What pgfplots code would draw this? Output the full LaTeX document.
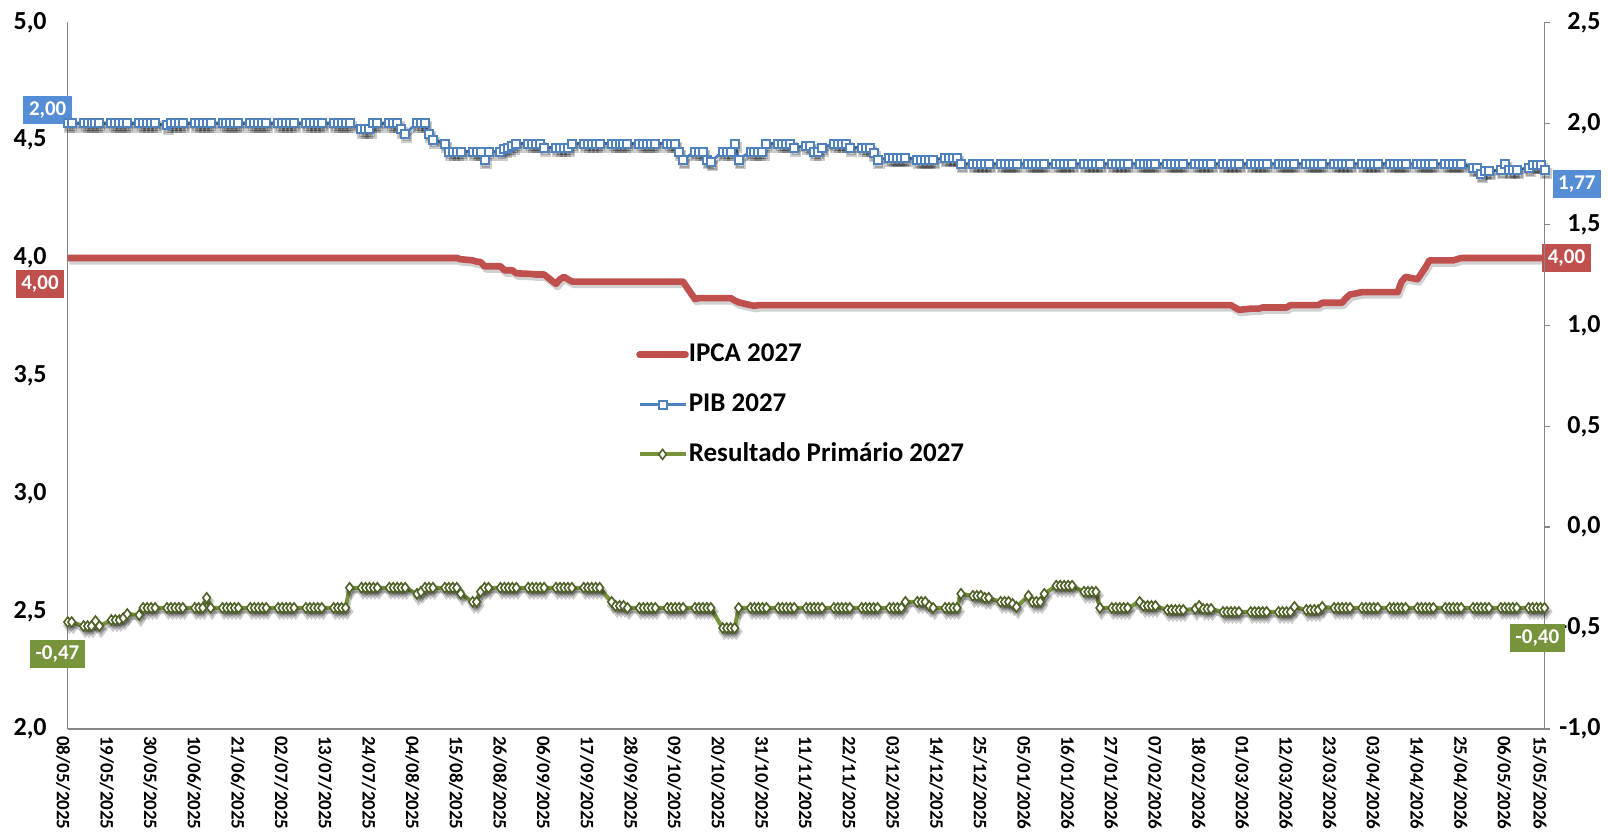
\documentclass[border=0pt]{standalone}
\usepackage{pgfplots}
\pgfplotsset{compat=1.18}
\usepackage{pgfplotstable}
\usepackage{fontspec}
\setmainfont{Carlito}
\definecolor{ipca}{HTML}{C0504D}
\definecolor{pib}{HTML}{4F81BD}
\definecolor{pibbox}{HTML}{558ED5}
\definecolor{rp}{HTML}{77933C}
\definecolor{rpdark}{HTML}{4F6228}
\definecolor{axgray}{HTML}{868686}

\pgfplotstableread{
d ipca pib rp
0 4.00 2.00 -0.47
1 4.00 2.00 -0.47
4 4.00 2.00 -0.49
5 4.00 2.00 -0.49
6 4.00 2.00 -0.49
7 4.00 2.00 -0.465
8 4.00 2.00 -0.49
11 4.00 2.00 -0.46
12 4.00 2.00 -0.46
13 4.00 2.00 -0.46
14 4.00 2.00 -0.45
15 4.00 2.00 -0.43
18 4.00 2.00 -0.435
19 4.00 2.00 -0.40
20 4.00 2.00 -0.40
21 4.00 2.00 -0.40
22 4.00 2.00 -0.40
25 4.00 1.99 -0.40
26 4.00 2.00 -0.40
27 4.00 2.00 -0.40
28 4.00 2.00 -0.40
29 4.00 2.00 -0.40
32 4.00 2.00 -0.40
33 4.00 2.00 -0.40
34 4.00 2.00 -0.40
35 4.00 2.00 -0.35
36 4.00 2.00 -0.40
39 4.00 2.00 -0.40
40 4.00 2.00 -0.40
41 4.00 2.00 -0.40
42 4.00 2.00 -0.40
43 4.00 2.00 -0.40
46 4.00 2.00 -0.40
47 4.00 2.00 -0.40
48 4.00 2.00 -0.40
49 4.00 2.00 -0.40
50 4.00 2.00 -0.40
53 4.00 2.00 -0.40
54 4.00 2.00 -0.40
55 4.00 2.00 -0.40
56 4.00 2.00 -0.40
57 4.00 2.00 -0.40
60 4.00 2.00 -0.40
61 4.00 2.00 -0.40
62 4.00 2.00 -0.40
63 4.00 2.00 -0.40
64 4.00 2.00 -0.40
67 4.00 2.00 -0.40
68 4.00 2.00 -0.40
69 4.00 2.00 -0.40
70 4.00 2.00 -0.40
71 4.00 2.00 -0.30
74 4.00 1.97 -0.30
75 4.00 1.97 -0.30
76 4.00 1.97 -0.30
77 4.00 2.00 -0.30
78 4.00 2.00 -0.30
81 4.00 2.00 -0.30
82 4.00 2.00 -0.30
83 4.00 2.00 -0.30
84 4.00 1.97 -0.30
85 4.00 1.95 -0.30
88 4.00 2.00 -0.33
89 4.00 2.00 -0.32
90 4.00 2.00 -0.30
91 4.00 1.95 -0.30
92 4.00 1.92 -0.30
95 4.00 1.90 -0.30
96 4.00 1.86 -0.30
97 4.00 1.86 -0.30
98 4.00 1.86 -0.30
99 3.995 1.86 -0.33
102 3.99 1.86 -0.37
103 3.985 1.86 -0.37
104 3.983 1.86 -0.32
105 3.965 1.82 -0.30
106 3.965 1.86 -0.30
109 3.965 1.86 -0.30
110 3.948 1.875 -0.30
111 3.948 1.88 -0.30
112 3.948 1.89 -0.30
113 3.935 1.90 -0.30
116 3.933 1.90 -0.30
117 3.932 1.90 -0.30
118 3.93 1.90 -0.30
119 3.93 1.90 -0.30
120 3.93 1.88 -0.30
123 3.89 1.88 -0.30
124 3.91 1.88 -0.30
125 3.92 1.88 -0.30
126 3.91 1.88 -0.30
127 3.90 1.90 -0.30
130 3.90 1.90 -0.30
131 3.90 1.90 -0.30
132 3.90 1.90 -0.30
133 3.90 1.90 -0.30
134 3.90 1.90 -0.30
137 3.90 1.90 -0.37
138 3.90 1.90 -0.39
139 3.90 1.90 -0.39
140 3.90 1.90 -0.39
141 3.90 1.90 -0.40
144 3.90 1.90 -0.40
145 3.90 1.90 -0.40
146 3.90 1.90 -0.40
147 3.90 1.90 -0.40
148 3.90 1.90 -0.40
151 3.90 1.90 -0.40
152 3.90 1.90 -0.40
153 3.90 1.90 -0.40
154 3.90 1.86 -0.40
155 3.90 1.82 -0.40
158 3.826 1.86 -0.40
159 3.83 1.86 -0.40
160 3.83 1.86 -0.40
161 3.83 1.82 -0.40
162 3.83 1.81 -0.40
165 3.83 1.86 -0.50
166 3.83 1.86 -0.50
167 3.83 1.86 -0.50
168 3.82 1.90 -0.50
169 3.812 1.82 -0.40
172 3.80 1.86 -0.40
173 3.797 1.86 -0.40
174 3.80 1.86 -0.40
175 3.80 1.86 -0.40
176 3.80 1.90 -0.40
179 3.80 1.90 -0.40
180 3.80 1.90 -0.40
181 3.80 1.90 -0.40
182 3.80 1.90 -0.40
183 3.80 1.88 -0.40
186 3.80 1.89 -0.40
187 3.80 1.89 -0.40
188 3.80 1.86 -0.40
189 3.80 1.86 -0.40
190 3.80 1.88 -0.40
193 3.80 1.90 -0.40
194 3.80 1.90 -0.40
195 3.80 1.90 -0.40
196 3.80 1.90 -0.40
197 3.80 1.88 -0.40
200 3.80 1.88 -0.40
201 3.80 1.88 -0.40
202 3.80 1.88 -0.40
203 3.80 1.855 -0.40
204 3.80 1.82 -0.40
207 3.80 1.83 -0.40
208 3.80 1.83 -0.40
209 3.80 1.83 -0.40
210 3.80 1.83 -0.40
211 3.80 1.83 -0.37
214 3.80 1.82 -0.37
215 3.80 1.82 -0.37
216 3.80 1.82 -0.37
217 3.80 1.82 -0.39
218 3.80 1.82 -0.40
221 3.80 1.83 -0.40
222 3.80 1.83 -0.40
223 3.80 1.83 -0.40
224 3.80 1.83 -0.40
225 3.80 1.80 -0.33
228 3.80 1.80 -0.34
229 3.80 1.80 -0.34
230 3.80 1.80 -0.34
231 3.80 1.80 -0.35
232 3.80 1.80 -0.35
235 3.80 1.80 -0.37
236 3.80 1.80 -0.37
237 3.80 1.80 -0.37
238 3.80 1.80 -0.38
239 3.80 1.80 -0.395
242 3.80 1.80 -0.34
243 3.80 1.80 -0.37
244 3.80 1.80 -0.37
245 3.80 1.80 -0.37
246 3.80 1.80 -0.33
249 3.80 1.80 -0.29
250 3.80 1.80 -0.29
251 3.80 1.80 -0.29
252 3.80 1.80 -0.29
253 3.80 1.80 -0.29
256 3.80 1.80 -0.32
257 3.80 1.80 -0.32
258 3.80 1.80 -0.32
259 3.80 1.80 -0.32
260 3.80 1.80 -0.40
263 3.80 1.80 -0.40
264 3.80 1.80 -0.40
265 3.80 1.80 -0.40
266 3.80 1.80 -0.40
267 3.80 1.80 -0.40
270 3.80 1.80 -0.37
271 3.80 1.80 -0.39
272 3.80 1.80 -0.39
273 3.80 1.80 -0.39
274 3.80 1.80 -0.39
277 3.80 1.80 -0.41
278 3.80 1.80 -0.41
279 3.80 1.80 -0.41
280 3.80 1.80 -0.41
281 3.80 1.80 -0.41
284 3.80 1.80 -0.405
285 3.80 1.80 -0.39
286 3.80 1.80 -0.405
287 3.80 1.80 -0.405
288 3.80 1.80 -0.405
291 3.80 1.80 -0.42
292 3.80 1.80 -0.42
293 3.80 1.80 -0.42
294 3.79 1.80 -0.42
295 3.78 1.80 -0.42
298 3.785 1.80 -0.42
299 3.785 1.80 -0.42
300 3.785 1.80 -0.42
301 3.79 1.80 -0.42
302 3.79 1.80 -0.42
305 3.79 1.80 -0.42
306 3.79 1.80 -0.42
307 3.79 1.80 -0.42
308 3.80 1.80 -0.42
309 3.80 1.80 -0.395
312 3.80 1.80 -0.41
313 3.80 1.80 -0.41
314 3.80 1.80 -0.41
315 3.80 1.80 -0.41
316 3.81 1.80 -0.395
319 3.81 1.80 -0.40
320 3.81 1.80 -0.40
321 3.81 1.80 -0.40
322 3.83 1.80 -0.40
323 3.845 1.80 -0.40
326 3.855 1.80 -0.40
327 3.855 1.80 -0.40
328 3.855 1.80 -0.40
329 3.855 1.80 -0.40
330 3.855 1.80 -0.40
333 3.855 1.80 -0.40
334 3.855 1.80 -0.40
335 3.855 1.80 -0.40
336 3.90 1.80 -0.40
337 3.92 1.80 -0.40
340 3.91 1.80 -0.40
341 3.935 1.80 -0.40
342 3.96 1.80 -0.40
343 3.99 1.80 -0.40
344 3.99 1.80 -0.40
347 3.99 1.80 -0.40
348 3.99 1.80 -0.40
349 3.99 1.80 -0.40
350 3.995 1.80 -0.40
351 4.00 1.80 -0.40
354 4.00 1.78 -0.40
355 4.00 1.78 -0.40
356 4.00 1.75 -0.40
357 4.00 1.765 -0.40
358 4.00 1.765 -0.40
361 4.00 1.77 -0.40
362 4.00 1.80 -0.40
363 4.00 1.77 -0.40
364 4.00 1.77 -0.40
365 4.00 1.77 -0.40
368 4.00 1.78 -0.40
369 4.00 1.795 -0.40
370 4.00 1.795 -0.40
371 4.00 1.795 -0.40
372 4.00 1.77 -0.40
}\data

\pgfplotsset{
  tlab/.style={font=\bfseries\fontsize{13}{15}\selectfont},
  numfmt/.style={/pgf/number format/fixed, /pgf/number format/fixed zerofill, /pgf/number format/precision=1, /pgf/number format/use comma, /pgf/number format/assume math mode=true},
}
\tikzset{
  boxlab/.style={text=white, font=\bfseries\fontsize{10.5}{12}\selectfont, minimum height=14pt, inner xsep=2.8pt, inner ysep=0pt},
}

\begin{document}
\begin{tikzpicture}
% ---------- left axis: IPCA ----------
\begin{axis}[
  at={(33.85pt,54.45pt)}, anchor=south west,
  width=738.4pt, height=353.3pt, scale only axis,
  xmin=0, xmax=372, ymin=2, ymax=5,
  axis x line*=bottom, axis y line*=left,
  axis line style={axgray, line width=0.75pt},
  tick style={draw=none},
  ytick={2,2.5,3,3.5,4,4.5,5},
  yticklabel style={tlab, numfmt, xshift=-7pt},
  xtick={0,11,22,33,44,55,66,77,88,99,110,121,132,143,154,165,176,187,198,209,220,231,242,253,264,275,286,297,308,319,330,341,352,363,372},
  xticklabels={08/05/2025,19/05/2025,30/05/2025,10/06/2025,21/06/2025,02/07/2025,13/07/2025,24/07/2025,04/08/2025,15/08/2025,26/08/2025,06/09/2025,17/09/2025,28/09/2025,09/10/2025,20/10/2025,31/10/2025,11/11/2025,22/11/2025,03/12/2025,14/12/2025,25/12/2025,05/01/2026,16/01/2026,27/01/2026,07/02/2026,18/02/2026,01/03/2026,12/03/2026,23/03/2026,03/04/2026,14/04/2026,25/04/2026,06/05/2026,15/05/2026},
  xticklabel style={rotate=-90, anchor=west, font=\bfseries\fontsize{9.5}{11}\selectfont, yshift=-2.3pt},
  clip=false,
]
\addplot[forget plot, draw=black, opacity=0.18, line width=3.3pt, line join=round, xshift=0.8pt, yshift=-1.6pt] table[x=d,y=ipca]{\data};
\addplot[ipca, line width=3.3pt, line join=round] table[x=d,y=ipca]{\data};
\node[boxlab, fill=ipca] at ([xshift=-13.85pt,yshift=-13.1pt]axis cs:0,4.00) {4,00};
\node[boxlab, fill=ipca] at ([xshift=11pt]axis cs:372,4.00) {4,00};
\end{axis}
% ---------- right axis: PIB and Resultado Primario ----------
\begin{axis}[
  at={(33.85pt,54.45pt)}, anchor=south west,
  width=738.4pt, height=353.3pt, scale only axis,
  xmin=0, xmax=372, ymin=-1, ymax=2.5,
  axis x line=none, axis y line*=right,
  axis line style={axgray, line width=0.75pt},
  ytick={-1,-0.5,0,0.5,1,1.5,2,2.5},
  ytick style={axgray, line width=0.75pt},
  tick align=outside, major tick length=2.5pt,
  yticklabel style={tlab, numfmt, anchor=east, xshift=29pt},
  clip=false,
  legend style={at={(rel axis cs:0.3847,0.5487)}, anchor=north west, draw=none, fill=none,
    font=\bfseries\fontsize{13.5}{16}\selectfont, inner sep=0pt, row sep=11.9pt,
    nodes={inner sep=0pt, text height=10pt, text depth=3pt}},
  legend cell align=left,
  legend image code/.code={\draw[mark repeat=2,mark phase=2,#1] plot coordinates {(0pt,0pt) (11.5pt,0pt) (23pt,0pt)};},
]
\addlegendimage{ipca, line width=3.3pt, line cap=round}
\addlegendentry{IPCA 2027}
\addplot[forget plot, draw=black, opacity=0.2, line width=1.5pt, mark=square*, mark size=2.1pt,
  mark options={draw=black, fill=black}, xshift=0.8pt, yshift=-1.8pt] table[x=d,y=pib]{\data};
\addplot[pib, line width=1.5pt, mark=square*, mark size=2.0pt,
  mark options={fill=white, draw=pib, line width=1pt}] table[x=d,y=pib]{\data};
\addlegendentry{PIB 2027}
\addplot[forget plot, draw=black, opacity=0.2, line width=2pt, mark=diamond*, mark size=2.6pt,
  mark options={draw=black, fill=black}, xshift=0.8pt, yshift=-1.8pt] table[x=d,y=rp]{\data};
\addplot[rp, line width=2pt, mark=diamond*, mark size=2.5pt,
  mark options={fill=white, draw=rpdark, line width=0.8pt}] table[x=d,y=rp]{\data};
\addlegendentry{Resultado Primário 2027}
\node[boxlab, fill=pibbox] at ([xshift=-10pt,yshift=6.6pt]axis cs:0,2.00) {2,00};
\node[boxlab, fill=rp] at ([xshift=-5.15pt,yshift=-15.9pt]axis cs:0,-0.47) {-0,47};
\node[boxlab, fill=pibbox] at ([xshift=16.2pt,yshift=-6.95pt]axis cs:372,1.77) {1,77};
\node[boxlab, fill=rp] at ([xshift=-3.6pt,yshift=-15pt]axis cs:372,-0.40) {-0,40};
\end{axis}
\pgfresetboundingbox
\path[use as bounding box] (0,0) rectangle (804pt,419pt);
\end{tikzpicture}
\end{document}
